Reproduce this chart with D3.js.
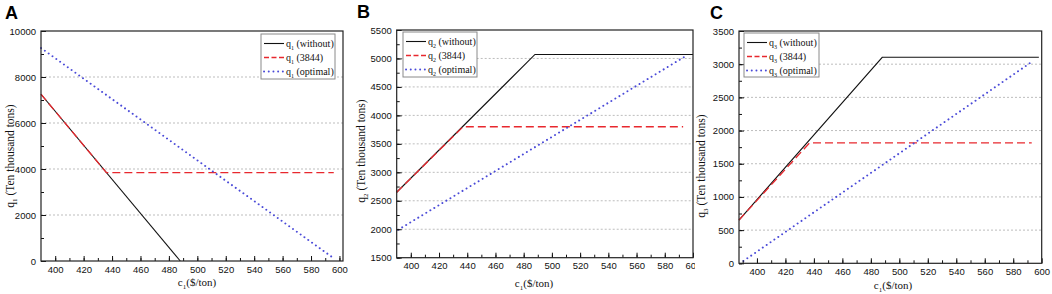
<!DOCTYPE html>
<html>
<head>
<meta charset="utf-8">
<script src="https://cdn.jsdelivr.net/npm/d3@7"></script>
<style>
  body { margin: 0; background: #fff; }
  .tick text { font-family: "Liberation Sans", Arial, sans-serif; font-size: 9.5px; fill: #111; }
  .serif { font-family: "Liberation Serif", "Times New Roman", serif; fill: #111; }
</style>
</head>
<body>
<div id="chart"></div>
<script>
// shared x ticks (c1, $/ton)
var cTicks = [400, 420, 440, 460, 480, 500, 520, 540, 560, 580, 600];

// panel A - q1
var cWithoutA = [390, 488], qWithoutA = [7250, 0];
var cCapA = [390, 436, 596], qCapA = [7250, 3844, 3844];
var cOptA = [390, 596], qOptA = [9260, 120];
var qTicksA = [0, 2000, 4000, 6000, 8000, 10000];

// panel B - q2
var cWithoutB = [390, 488, 600], qWithoutB = [2650, 5070, 5070];
var cCapB = [390, 437, 593], qCapB = [2650, 3800, 3800];
var cOptB = [391, 595], qOptB = [1990, 5045];
var qTicksB = [1500, 2000, 2500, 3000, 3500, 4000, 4500, 5000, 5500];

// panel C - q3
var cWithoutC = [387.4, 488, 598], qWithoutC = [652, 3104, 3104];
var cCapC = [387.4, 437, 593], qCapC = [652, 1815, 1815];
var cOptC = [390.5, 594], qOptC = [35, 3050];
var qTicksC = [0, 500, 1000, 1500, 2000, 2500, 3000, 3500];

var panels = [
  { letter: "A", sub: "1", lx: 5, ly: 19,
    left: 41, right: 343, top: 31, bottom: 261, xdom: [390, 602.5], ydom: [0, 10000],
    ticks: qTicksA, minorStep: 1000,
    series: [[cWithoutA, qWithoutA], [cCapA, qCapA], [cOptA, qOptA]],
    legend: { x: 261, y: 34, w: 74, h: 45 },
    ytitle: { x: 14, y: 156 }, xtitle: { x: 197, y: 286 }, clip: null },
  { letter: "B", sub: "2", lx: 357, ly: 18,
    left: 396.7, right: 693, top: 30, bottom: 257.7, xdom: [390, 600], ydom: [1500, 5500],
    ticks: qTicksB, minorStep: 250,
    series: [[cWithoutB, qWithoutB], [cCapB, qCapB], [cOptB, qOptB]],
    legend: { x: 403, y: 32, w: 74, h: 45 },
    ytitle: { x: 365, y: 151 }, xtitle: { x: 534, y: 287 }, clip: [345, 695] },
  { letter: "C", sub: "3", lx: 710, ly: 19,
    left: 739, right: 1041.7, top: 31, bottom: 263.3, xdom: [387.4, 600], ydom: [0, 3500],
    ticks: qTicksC, minorStep: 250,
    series: [[cWithoutC, qWithoutC], [cCapC, qCapC], [cOptC, qOptC]],
    legend: { x: 744, y: 33, w: 75, h: 44 },
    ytitle: { x: 705, y: 166 }, xtitle: { x: 893, y: 289 }, clip: null }
];

var styles = [
  { color: "#111", width: 1.1, dash: null, cap: "butt", label: " (without)" },
  { color: "#e8282e", width: 1.3, dash: "8,4", cap: "butt", label: " (3844)" },
  { color: "#4a4ad8", width: 1.9, dash: "0.1,4.6", cap: "round", label: " (optimal)" }
];

var svg = d3.select("#chart").append("svg")
  .attr("width", 1052).attr("height", 294);

svg.append("defs").append("clipPath").attr("id", "clipB")
  .append("rect").attr("x", 345).attr("y", 0).attr("width", 350).attr("height", 294);

panels.forEach(function(p) {
  var g = svg.append("g");
  if (p.clip) g.attr("clip-path", "url(#clipB)");

  var x = d3.scaleLinear().domain(p.xdom).range([p.left, p.right]);
  var y = d3.scaleLinear().domain(p.ydom).range([p.bottom, p.top]);

  // grid lines
  g.append("g").selectAll("line")
    .data(p.ticks.filter(function(t) { return t > p.ydom[0] && t < p.ydom[1]; }))
    .join("line")
    .attr("x1", p.left).attr("x2", p.right)
    .attr("y1", function(d) { return y(d); }).attr("y2", function(d) { return y(d); })
    .attr("stroke", "#bdbdbd").attr("stroke-width", 1).attr("stroke-dasharray", "2,2");

  // lines
  var line = d3.line().x(function(d) { return x(d[0]); }).y(function(d) { return y(d[1]); });
  p.series.forEach(function(s, i) {
    var pts = s[0].map(function(c, k) { return [c, s[1][k]]; });
    g.append("path").datum(pts)
      .attr("d", line)
      .attr("fill", "none")
      .attr("stroke", styles[i].color)
      .attr("stroke-width", styles[i].width)
      .attr("stroke-dasharray", styles[i].dash)
      .attr("stroke-linecap", styles[i].cap);
  });

  // x axis (ticks inward)
  var minorC = d3.range(p.xdom[0] - (p.xdom[0] % 10) + 10, p.xdom[1], 10);
  g.append("g").attr("transform", "translate(0," + p.bottom + ")")
    .call(d3.axisBottom(x).tickValues(minorC).tickSize(-3).tickFormat(""))
    .call(function(a) { a.select(".domain").remove(); });
  g.append("g").attr("transform", "translate(0," + p.bottom + ")")
    .call(d3.axisBottom(x).tickValues(cTicks).tickSizeInner(-5).tickSizeOuter(0).tickPadding(5).tickFormat(d3.format("d")))
    .call(function(a) { a.select(".domain").remove(); });

  // y axis
  var minorQ = d3.range(p.ydom[0], p.ydom[1] + 1, p.minorStep);
  g.append("g").attr("transform", "translate(" + p.left + ",0)")
    .call(d3.axisLeft(y).tickValues(minorQ).tickSize(-3).tickFormat(""))
    .call(function(a) { a.select(".domain").remove(); });
  g.append("g").attr("transform", "translate(" + p.left + ",0)")
    .call(d3.axisLeft(y).tickValues(p.ticks).tickSizeInner(-5).tickSizeOuter(0).tickPadding(5).tickFormat(d3.format("d")))
    .call(function(a) { a.select(".domain").remove(); });

  g.selectAll(".tick line").attr("stroke", "#111");

  // frame
  g.append("rect")
    .attr("x", p.left).attr("y", p.top)
    .attr("width", p.right - p.left).attr("height", p.bottom - p.top)
    .attr("fill", "none").attr("stroke", "#222").attr("stroke-width", 1.2);

  // legend
  var lg = g.append("g");
  lg.append("rect")
    .attr("x", p.legend.x).attr("y", p.legend.y)
    .attr("width", p.legend.w).attr("height", p.legend.h)
    .attr("fill", "#fff").attr("stroke", "#8a8a8a").attr("stroke-width", 1);
  styles.forEach(function(st, i) {
    var ry = p.legend.y + 9.5 + i * 14;
    lg.append("line")
      .attr("x1", p.legend.x + 3).attr("x2", p.legend.x + 23)
      .attr("y1", ry).attr("y2", ry)
      .attr("stroke", st.color).attr("stroke-width", st.width)
      .attr("stroke-dasharray", i == 1 ? "5,2.5" : st.dash)
      .attr("stroke-linecap", st.cap);
    var t = lg.append("text").attr("class", "serif")
      .attr("x", p.legend.x + 25).attr("y", ry + 3.5)
      .attr("font-size", "10px");
    t.append("tspan").text("q");
    t.append("tspan").attr("font-size", "6px").attr("dy", 2.5).text(p.sub);
    t.append("tspan").attr("dy", -2.5).text(st.label);
  });

  // y title
  var yt = g.append("text").attr("class", "serif")
    .attr("transform", "translate(" + p.ytitle.x + "," + p.ytitle.y + ") rotate(-90)")
    .attr("text-anchor", "middle").attr("font-size", "11.5px");
  yt.append("tspan").text("q");
  yt.append("tspan").attr("font-size", "7px").attr("dy", 3).text(p.sub);
  yt.append("tspan").attr("dy", -3).text(" (Ten thousand tons)");

  // x title
  var xt = g.append("text").attr("class", "serif")
    .attr("x", p.xtitle.x).attr("y", p.xtitle.y)
    .attr("text-anchor", "middle").attr("font-size", "11px");
  xt.append("tspan").text("c");
  xt.append("tspan").attr("font-size", "7px").attr("dy", 3).text("1");
  xt.append("tspan").attr("dy", -3).text("($/ton)");

  // panel letter
  g.append("text")
    .attr("x", p.lx).attr("y", p.ly)
    .attr("font-family", "Liberation Sans, Arial, sans-serif")
    .attr("font-weight", "bold").attr("font-size", "18px")
    .attr("fill", "#000")
    .text(p.letter);
});
</script>
</body>
</html>
